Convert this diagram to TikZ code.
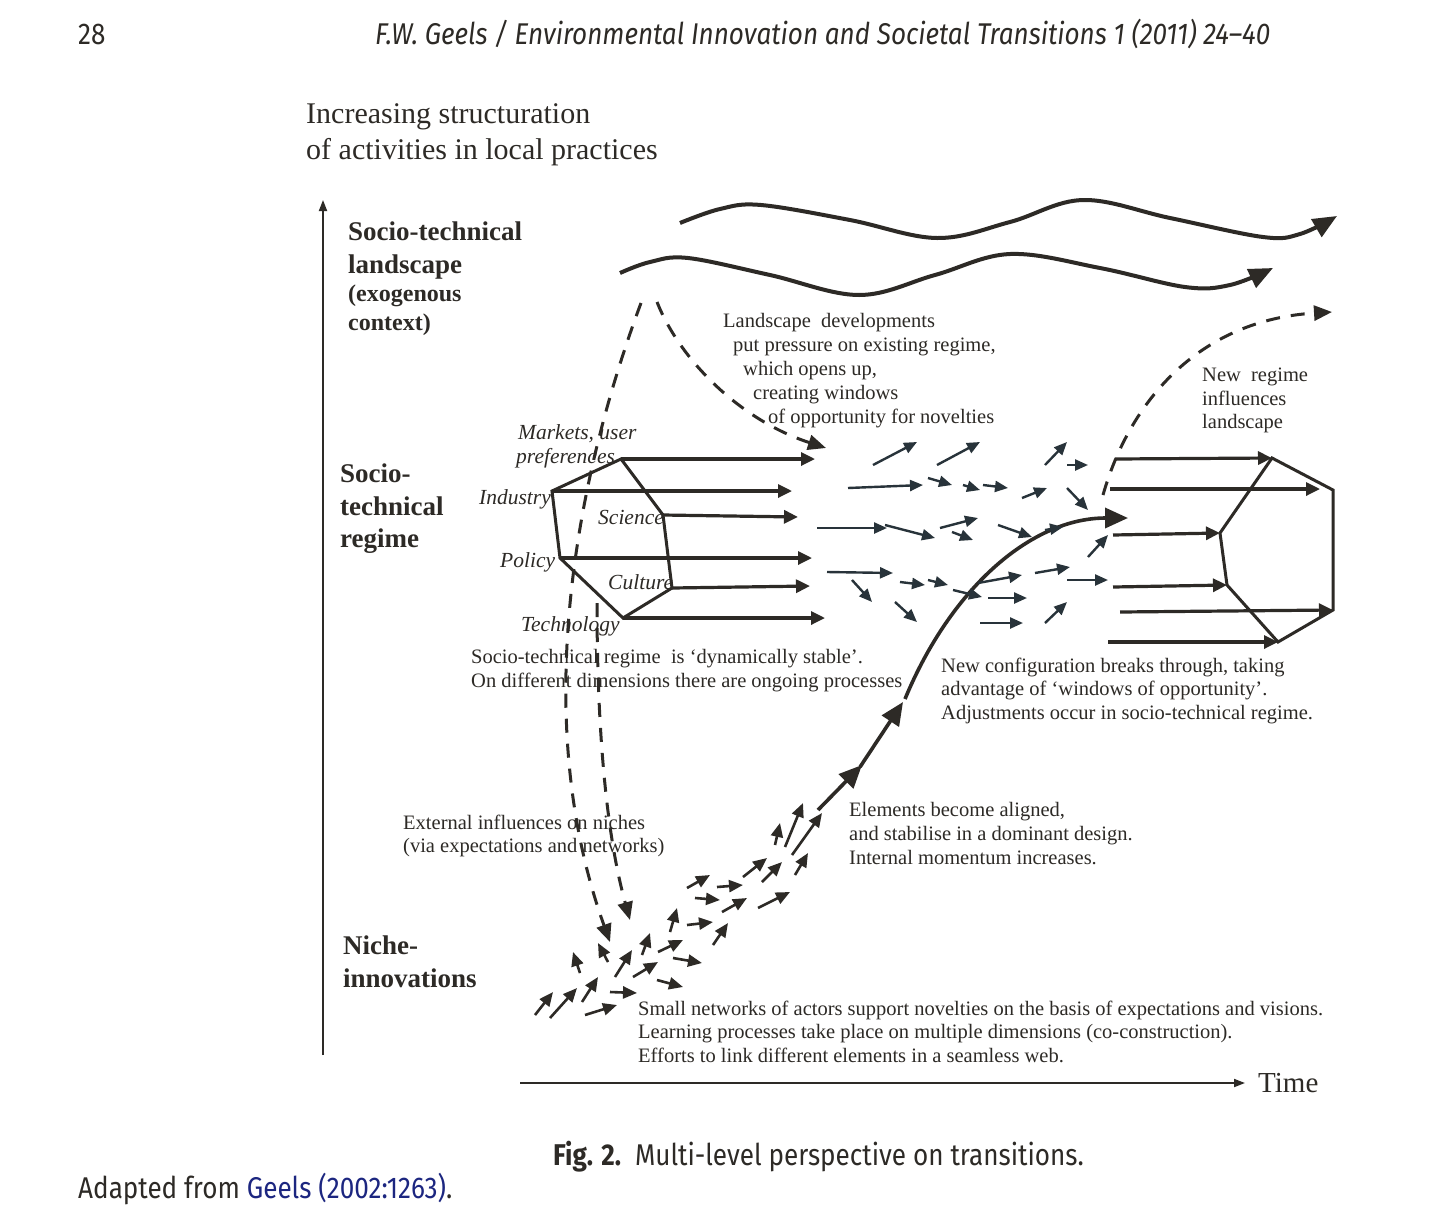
\documentclass[tikz,border=0pt]{standalone}
\usepackage{fontspec}
\setmainfont{Liberation Serif}
\newfontfamily\capfont[FakeStretch=0.87, Ligatures=TeX]{Fira Sans}
\usetikzlibrary{arrows.meta}
\definecolor{ink}{HTML}{2D2A26}
\definecolor{slate}{HTML}{28333A}
\definecolor{linkblue}{HTML}{1C2680}
\tikzset{
  txt/.style={inner sep=0pt, anchor=north west, align=left, text=ink,
    font=\fontsize{20.5}{23.8}\selectfont},
  lbl/.style={inner sep=0pt, anchor=north west, align=left, text=ink,
    font=\fontsize{21.5}{25}\selectfont\itshape},
  level/.style={inner sep=0pt, anchor=north west, align=left, text=ink,
    font=\fontsize{27}{33}\selectfont\bfseries},
  axis/.style={ink, line width=1.8pt, -{Triangle[length=11pt,width=8pt]}},
  wave/.style={ink, line width=4pt, -{Triangle[length=24pt,width=20pt]}},
  hexline/.style={ink, line width=3pt, line join=miter},
  regarrow/.style={ink, line width=3.2pt, -{Triangle[length=14pt,width=13pt]}},
  bigarrow/.style={ink, line width=3.6pt, -{Triangle[length=23pt,width=20pt]}},
  nicharrow/.style={ink, line width=2.6pt, -{Triangle[length=14pt,width=12pt]}},
  midarrow/.style={slate, line width=2.4pt, -{Triangle[length=13pt,width=11pt]}},
  dasharrow/.style={ink, line width=3pt, dash pattern=on 14pt off 11pt,
    -{Triangle[length=18pt,width=15pt]}}
}
\begin{document}
\begin{tikzpicture}[x=1pt,y=-1pt]
\useasboundingbox[fill=white] (0,0) rectangle (1456,1224);

% page header and caption
\node[inner sep=0pt, anchor=base west, text=ink, font=\capfont\fontsize{30}{34}\selectfont] (pageno) at (78,44) {28};
\node[inner sep=0pt, anchor=base west, text=ink, font=\capfont\fontsize{30}{34}\selectfont\itshape] (runhead) at (375,44)
  {F.W. Geels / Environmental Innovation and Societal Transitions 1 (2011) 24--40};
\node[inner sep=0pt, anchor=base west, text=ink, font=\capfont\fontsize{30}{34}\selectfont] (caption) at (553,1165)
  {\textbf{Fig. 2.}\ \ Multi-level perspective on transitions.};
\node[inner sep=0pt, anchor=base west, text=ink, font=\capfont\fontsize{30}{34}\selectfont] (source) at (78,1198)
  {Adapted from \textcolor{linkblue}{Geels (2002:1263)}.};

% axes
\coordinate (origin) at (323,1055);
\coordinate (ytop) at (323,200);
\coordinate (tstart) at (520,1083);
\coordinate (tend) at (1245,1083);
\draw[axis] (origin) -- (ytop);
\draw[axis] (tstart) -- (tend);
\node[inner sep=0pt, anchor=west, text=ink, font=\fontsize{29}{34}\selectfont] (time) at (1258,1083) {Time};
\node[inner sep=0pt, anchor=north west, align=left, text=ink, font=\fontsize{30}{36}\selectfont] (yaxis) at (306,103)
  {Increasing structuration\\of activities in local practices};

% level labels
\node[level] (landscape) at (348,222) {Socio-technical\\landscape};
\node[level, font=\fontsize{24}{29}\selectfont\bfseries] (exo) at (348,285) {(exogenous\\context)};
\node[level, font=\fontsize{27}{32.5}\selectfont\bfseries] (regime) at (340,464) {Socio-\\technical\\regime};
\node[level] (niche) at (343,936) {Niche-\\innovations};

% landscape waves
\draw[wave] plot[smooth, tension=0.6] coordinates {(680,223) (720,209) (761,205) (850,220) (937,238) (1010,222)
  (1083,200) (1170,218) (1263,237) (1300,234) (1337,216)};
\draw[wave] plot[smooth, tension=0.6] coordinates {(620,273) (650,262) (688,258) (770,275) (859,295) (935,275)
  (1010,254) (1100,268) (1185,287) (1230,285) (1273,268)};

% old regime
\coordinate (mkt) at (621,459);
\coordinate (ind) at (552,491);
\coordinate (pol) at (560,558);
\coordinate (tec) at (623,618);
\coordinate (cul) at (672,588);
\coordinate (sci) at (663,515);
\draw[hexline] (mkt) -- (ind) -- (pol) -- (tec) -- (cul) -- (sci) -- cycle;
\draw[regarrow] (mkt) -- (815,459);
\draw[regarrow] (ind) -- (792,491);
\draw[regarrow] (sci) -- (798,517);
\draw[regarrow] (pol) -- (812,558);
\draw[regarrow] (cul) -- (810,586);
\draw[regarrow] (tec) -- (825,618);
\node[lbl] (markets) at (518,424) {Markets, user\\[-1pt]\hspace*{-2pt}preferences};
\node[lbl] (industry) at (479,489) {Industry};
\node[lbl] (science) at (598,510) {Science};
\node[lbl] (policy) at (500,552) {Policy};
\node[lbl] (culture) at (608,574) {Culture};
\node[lbl] (technology) at (521,616) {Technology};

% new regime
\coordinate (nmkt) at (1272,458);
\coordinate (ntr) at (1333,490);
\coordinate (nbr) at (1333,610);
\coordinate (nbot) at (1278,642);
\coordinate (nlo) at (1227,585);
\coordinate (nup) at (1220,533);
\draw[hexline] (nmkt) -- (ntr) -- (nbr) -- (nbot) -- (nlo) -- (nup) -- cycle;
\draw[regarrow] (1115,459) -- (nmkt);
\draw[regarrow] (1110,489) -- (1320,489);
\draw[regarrow] (1113,535) -- (nup);
\draw[regarrow] (1113,587) -- (nlo);
\draw[regarrow] (1120,612) -- (nbr);
\draw[regarrow] (1108,642) -- (nbot);

% dashed influences
\coordinate (ls1) at (641,303);
\coordinate (ls2) at (657,302);
\coordinate (window) at (826,448);
\coordinate (rg1) at (597,603);
\coordinate (nc1) at (610,942);
\coordinate (nc2) at (630,920);
\coordinate (nr0) at (1103,495);
\coordinate (nr1) at (1332,312);
\draw[dasharrow] (ls1) .. controls (575,480) and (530,720) .. (nc1);
\draw[dasharrow] (rg1) .. controls (597,720) and (605,830) .. (nc2);
\draw[dasharrow] (ls2) .. controls (680,360) and (740,420) .. (window);
\draw[dasharrow] (nr0) .. controls (1130,400) and (1200,320) .. (nr1);

% niche arrows
\draw[nicharrow] (535,1015) -- (553,992);
\draw[nicharrow] (550,1018) -- (577,988);
\draw[nicharrow] (582,1002) -- (598,977);
\draw[nicharrow] (585,1015) -- (617,1005);
\draw[nicharrow] (580,973) -- (573,952);
\draw[nicharrow] (608,962) -- (598,943);
\draw[nicharrow] (615,977) -- (632,950);
\draw[nicharrow] (610,992) -- (637,993);
\draw[nicharrow] (633,977) -- (658,962);
\draw[nicharrow] (642,955) -- (650,933);
\draw[nicharrow] (657,980) -- (683,987);
\draw[nicharrow] (658,952) -- (683,940);
\draw[nicharrow] (673,958) -- (702,963);
\draw[nicharrow] (670,932) -- (677,908);
\draw[nicharrow] (687,925) -- (713,922);
\draw[nicharrow] (713,945) -- (728,923);
\draw[nicharrow] (722,912) -- (747,898);
\draw[nicharrow] (695,898) -- (720,900);
\draw[nicharrow] (687,888) -- (710,875);
\draw[nicharrow] (717,887) -- (743,885);
\draw[nicharrow] (743,877) -- (767,858);
\draw[nicharrow] (762,882) -- (782,862);
\draw[nicharrow] (758,908) -- (790,892);
\draw[nicharrow] (795,875) -- (808,853);
\draw[nicharrow] (775,845) -- (780,823);
\draw[nicharrow] (785,847) -- (803,803);
\draw[nicharrow] (792,855) -- (822,813);

% breakthrough
\coordinate (up0) at (818,810);
\coordinate (up1) at (862,765);
\coordinate (up2) at (903,702);
\coordinate (brk) at (1128,518);
\draw[bigarrow] (up0) -- (up1);
\draw[bigarrow] (860,767) -- (up2);
\draw[bigarrow] (905,699) .. controls (950,590) and (1030,518) .. (brk);

% arrows in the window of opportunity
\draw[midarrow] (873,465) -- (917,442);
\draw[midarrow] (937,465) -- (980,442);
\draw[midarrow] (1045,465) -- (1067,442);
\draw[midarrow] (1067,465) -- (1088,465);
\draw[midarrow] (848,488) -- (923,485);
\draw[midarrow] (928,478) -- (952,485);
\draw[midarrow] (963,485) -- (980,490);
\draw[midarrow] (983,485) -- (1008,488);
\draw[midarrow] (1022,498) -- (1047,488);
\draw[midarrow] (1067,488) -- (1088,510);
\draw[midarrow] (817,528) -- (887,528);
\draw[midarrow] (885,525) -- (935,538);
\draw[midarrow] (940,528) -- (978,518);
\draw[midarrow] (952,532) -- (973,540);
\draw[midarrow] (998,525) -- (1032,537);
\draw[midarrow] (1045,530) -- (1063,527);
\draw[midarrow] (1088,557) -- (1108,535);
\draw[midarrow] (827,572) -- (893,573);
\draw[midarrow] (852,580) -- (872,602);
\draw[midarrow] (900,582) -- (925,585);
\draw[midarrow] (928,580) -- (948,585);
\draw[midarrow] (953,590) -- (982,597);
\draw[midarrow] (978,583) -- (1022,575);
\draw[midarrow] (1035,573) -- (1070,567);
\draw[midarrow] (1067,580) -- (1108,580);
\draw[midarrow] (895,602) -- (917,622);
\draw[midarrow] (988,598) -- (1027,598);
\draw[midarrow] (980,623) -- (1023,623);
\draw[midarrow] (1045,623) -- (1067,602);

% explanations
\node[txt] (pressure) at (723,313.5) {Landscape\ \ developments\\
  \hspace*{10pt}put pressure on existing regime,\\
  \hspace*{20pt}which opens up,\\
  \hspace*{30pt}creating windows\\
  \hspace*{45pt}of opportunity for novelties};
\node[txt] (feedback) at (1202,367.5) {New\ \ regime\\influences\\landscape};
\node[txt] (stable) at (471,649.5) {Socio-technical regime\ \ is `dynamically stable'.\\
  On different dimensions there are ongoing processes};
\node[txt] (through) at (941,657.5) {New configuration breaks through, taking\\
  advantage of `windows of opportunity'.\\Adjustments occur in socio-technical regime.};
\node[txt] (external) at (403,814.5) {External influences on niches\\(via expectations and networks)};
\node[txt] (aligned) at (849,802.5) {Elements become aligned,\\and stabilise in a dominant design.\\Internal momentum increases.};
\node[txt] (networks) at (638,1000.5) {Small networks of actors support novelties on the basis of expectations and visions.\\
  Learning processes take place on multiple dimensions (co-construction).\\
  Efforts to link different elements in a seamless web.};
\end{tikzpicture}
\end{document}
